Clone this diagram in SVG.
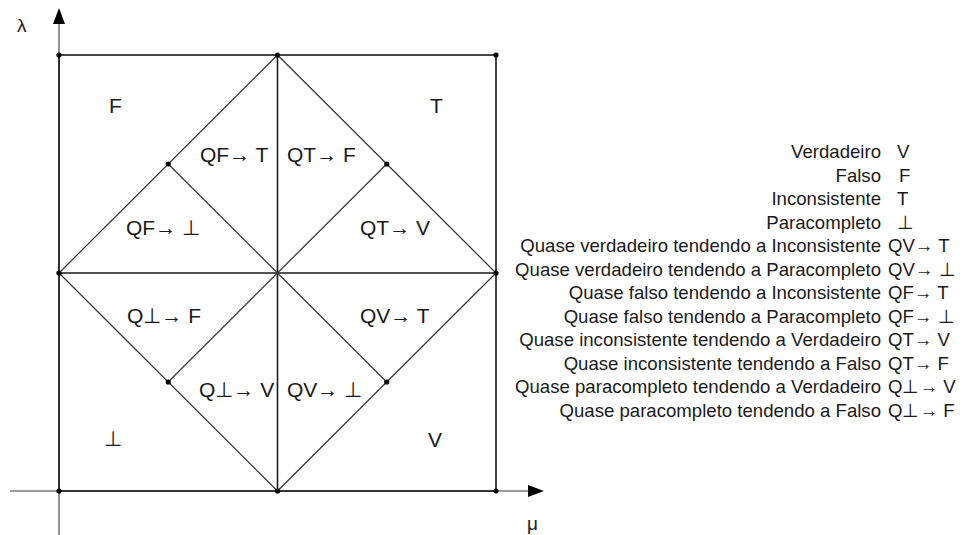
<svg xmlns="http://www.w3.org/2000/svg" width="965" height="535" viewBox="0 0 965 535">
<defs>
<style>
.t{font-family:"Liberation Sans",Arial,sans-serif;fill:#1a1a1a}
.lab{font-size:21px}
.leg{font-size:18.6px}
.sq{stroke:#1a1a1a;stroke-width:1.6;fill:none}
.dg{stroke:#3a3a3a;stroke-width:1.3;fill:none}
.ax{stroke:#7a7a7a;stroke-width:1.6;fill:none}
.dot{fill:#000}
</style>
</defs>
<rect width="965" height="535" fill="#fff"/>
<g id="axes">
<line class="ax" x1="59" y1="535" x2="59" y2="22"/>
<line class="ax" x1="10" y1="491" x2="530" y2="491"/>
<polygon points="59,8 53,24 65,24" fill="#000"/>
<polygon points="544,491 528,485 528,497" fill="#000"/>
<text class="t" x="17" y="32" font-size="19">λ</text>
<text class="t" x="527" y="530" font-size="19">μ</text>
</g>
<g id="connectors">
<rect class="sq" x="59" y="55" width="437" height="436"/>
<line class="sq" x1="59" y1="273" x2="496" y2="273"/>
<line class="sq" x1="277.5" y1="55" x2="277.5" y2="491"/>
<polyline class="dg" points="59,273 277.5,55 496,273 277.5,491 59,273"/>
<line class="dg" x1="168.25" y1="164" x2="277.5" y2="273"/>
<line class="dg" x1="386.75" y1="164" x2="277.5" y2="273"/>
<line class="dg" x1="168.25" y1="382" x2="277.5" y2="273"/>
<line class="dg" x1="386.75" y1="382" x2="277.5" y2="273"/>
</g>
<g id="dots">
<circle class="dot" cx="59" cy="55" r="2.6"/>
<circle class="dot" cx="277.5" cy="55" r="2.6"/>
<circle class="dot" cx="496" cy="55" r="2.6"/>
<circle class="dot" cx="59" cy="273" r="2.6"/>
<circle class="dot" cx="496" cy="273" r="2.6"/>
<circle class="dot" cx="59" cy="491" r="2.6"/>
<circle class="dot" cx="277.5" cy="491" r="2.6"/>
<circle class="dot" cx="496" cy="491" r="2.6"/>
<circle class="dot" cx="168.25" cy="164" r="2.6"/>
<circle class="dot" cx="386.75" cy="164" r="2.6"/>
<circle class="dot" cx="168.25" cy="382" r="2.6"/>
<circle class="dot" cx="386.75" cy="382" r="2.6"/>
</g>
<g id="region-F"><text class="t lab" x="109" y="113">F</text></g>
<g id="region-T"><text class="t lab" x="430" y="113">T</text></g>
<g id="region-P"><text class="t lab" x="104" y="446">⊥</text></g>
<g id="region-V"><text class="t lab" x="428" y="447">V</text></g>
<g id="region-QFT"><text class="t lab" x="200" y="162">QF→ T</text></g>
<g id="region-QTF"><text class="t lab" x="287" y="162">QT→ F</text></g>
<g id="region-QFP"><text class="t lab" x="126" y="235">QF→ ⊥</text></g>
<g id="region-QTV"><text class="t lab" x="360" y="235">QT→ V</text></g>
<g id="region-QPF"><text class="t lab" x="127" y="323">Q⊥→ F</text></g>
<g id="region-QVT"><text class="t lab" x="360" y="323">QV→ T</text></g>
<g id="region-QPV"><text class="t lab" x="199" y="397">Q⊥→ V</text></g>
<g id="region-QVP"><text class="t lab" x="287" y="397">QV→ ⊥</text></g>
<g id="legend">
<g text-anchor="end">
<text class="t leg" x="881" y="158">Verdadeiro</text>
<text class="t leg" x="881" y="181.5">Falso</text>
<text class="t leg" x="881" y="205">Inconsistente</text>
<text class="t leg" x="881" y="228.5">Paracompleto</text>
<text class="t leg" x="881" y="252">Quase verdadeiro tendendo a Inconsistente</text>
<text class="t leg" x="881" y="275.5">Quase verdadeiro tendendo a Paracompleto</text>
<text class="t leg" x="881" y="299">Quase falso tendendo a Inconsistente</text>
<text class="t leg" x="881" y="322.5">Quase falso tendendo a Paracompleto</text>
<text class="t leg" x="881" y="346">Quase inconsistente tendendo a Verdadeiro</text>
<text class="t leg" x="881" y="369.5">Quase inconsistente tendendo a Falso</text>
<text class="t leg" x="881" y="393">Quase paracompleto tendendo a Verdadeiro</text>
<text class="t leg" x="881" y="416.5">Quase paracompleto tendendo a Falso</text>
</g>
<text class="t leg" x="897" y="158">V</text>
<text class="t leg" x="899" y="181.5">F</text>
<text class="t leg" x="897" y="205">T</text>
<text class="t leg" x="897" y="228.5">⊥</text>
<text class="t leg" x="888" y="252">QV→ T</text>
<text class="t leg" x="888" y="275.5">QV→ ⊥</text>
<text class="t leg" x="888" y="299">QF→ T</text>
<text class="t leg" x="888" y="322.5">QF→ ⊥</text>
<text class="t leg" x="888" y="346">QT→ V</text>
<text class="t leg" x="888" y="369.5">QT→ F</text>
<text class="t leg" x="888" y="393">Q⊥→ V</text>
<text class="t leg" x="888" y="416.5">Q⊥→ F</text>
</g>
</svg>
